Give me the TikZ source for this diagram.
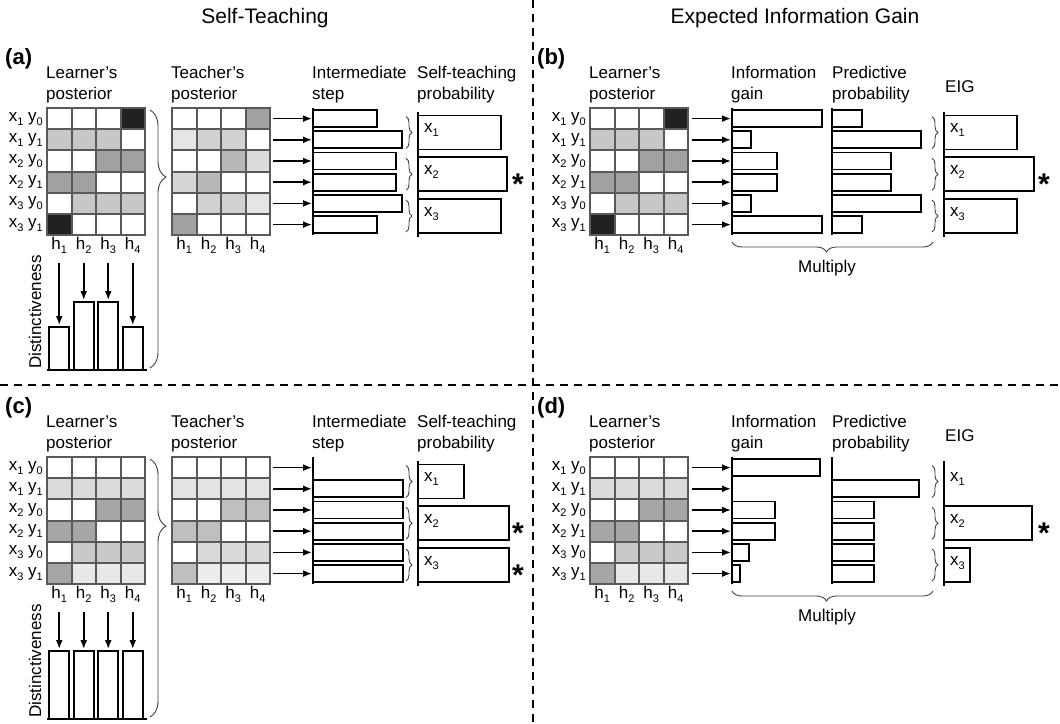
\documentclass[tikz,border=0pt]{standalone}
\usepackage{fontspec}
\setmainfont{Liberation Sans}
\usetikzlibrary{arrows.meta,decorations.pathreplacing}

\newcommand{\lowidx}[1]{\raisebox{-4pt}{\fontsize{11}{11}\selectfont #1}}

\tikzset{
  cell/.style={draw=black!65, line width=2pt},
  barbox/.style={draw=black, line width=1.8pt},
  axisline/.style={draw=black, line width=1.8pt},
  feed/.style={-{Latex[length=9pt,width=7pt]}, line width=1.7pt},
  grp/.style={decorate, decoration={brace, amplitude=6pt}, draw=black!75, line width=0.9pt},
  lab/.style={font=\fontsize{17}{21}\selectfont, inner sep=0pt},
  head2/.style={lab, align=left, anchor=south west},
  heading/.style={font=\fontsize{21}{25}\selectfont, inner sep=0pt},
  panel/.style={font=\fontsize{22}{25}\selectfont\bfseries, inner sep=0pt, anchor=west},
  divider/.style={dashed, dash pattern=on 8pt off 6pt, line width=1.4pt},
  star/.style={font=\fontsize{30}{30}\selectfont\bfseries, inner sep=0pt, anchor=west},
}

% posterior grid: name, left, top, darkness of the 24 cells (row by row)
\newcommand{\postgrid}[4]{%
  \foreach \p [count=\i from 0] in {#4}{%
    \pgfmathtruncatemacro{\cx}{mod(\i,4)}%
    \pgfmathtruncatemacro{\ry}{\i/4}%
    \filldraw[cell, fill=black!\p] ({#2+24.5*\cx},{#3+21.2*\ry}) rectangle ++(24.5,21.2);
  }
  \foreach \r in {1,...,6}
    \coordinate (#1e\r) at ({#2+98},{#3+21.2*(\r-0.5)});
  \foreach \c in {1,...,4}
    \node[lab] (#1h\c) at ({#2+24.5*(\c-0.5)},{#3+137}) {h\lowidx{\c}};
}

% x/y labels left of a grid
\newcommand{\rowlabels}[3]{%
  \foreach \xi/\yi [count=\r] in {1/0,1/1,2/0,2/1,3/0,3/1}
    \node[lab, anchor=east] (#1w\r) at ({#2-4},{#3+21.2*(\r-0.5)}) {x\lowidx{\xi} y\lowidx{\yi}};
}

% one bar per row: name, axis x, top, right ends (0 = no bar)
\newcommand{\barstack}[4]{%
  \draw[axisline] (#2,#3) -- (#2,{#3+127});
  \foreach \v [count=\r] in {#4}{%
    \coordinate (#1\r) at ({#2-1},{#3+21.2*(\r-0.5)});
    \ifdim \v pt>0pt
      \draw[barbox] (#2,{#3+21.2*(\r-0.5)-8.5}) rectangle (\v,{#3+21.2*(\r-0.5)+8.5});
    \fi
  }
}

% one bar per x: name, axis x, top, right ends (0 = no bar)
\newcommand{\groupstack}[4]{%
  \draw[axisline] (#2,{#3+4}) -- (#2,{#3+129});
  \foreach \v [count=\k] in {#4}{%
    \pgfmathsetmacro{\ya}{#3+7.5+41.75*(\k-1)}%
    \ifdim \v pt>0pt
      \draw[barbox] (#2,\ya) rectangle (\v,{\ya+34});
    \fi
    \node[lab, anchor=west] (#1x\k) at ({#2+6},{\ya+15}) {x\lowidx{\k}};
    \draw[grp] ({#2-12},{\ya+1}) -- ({#2-12},{\ya+33});
  }
}

\begin{document}
\begin{tikzpicture}[x=1pt, y=-1pt]
\useasboundingbox (0,0) rectangle (1060,723);

\draw[divider] (533,0) -- (533,723);
\draw[divider] (0,385) -- (1060,385);

\node[heading] (stTitle) at (265,18) {Self-Teaching};
\node[heading] (eigTitle) at (795,18) {Expected Information Gain};

% (a)
\node[panel] (pa) at (5,59) {(a)};
\node[head2] (aLt) at (46,103) {Learner's\\posterior};
\node[head2] (aTt) at (171,103) {Teacher's\\posterior};
\node[head2] (aIt) at (312,103) {Intermediate\\step};
\node[head2] (aSt) at (417,103) {Self-teaching\\probability};

\postgrid{aL}{47}{108}{0,0,0,87, 22,22,22,0, 0,0,37,37, 37,37,0,0, 0,22,22,22, 87,0,0,0}
\rowlabels{aL}{47}{108}
\postgrid{aT}{172}{108}{0,0,0,37, 10,18,18,0, 0,0,28,14, 16,28,0,0, 0,18,18,10, 37,0,0,0}
\barstack{aI}{313}{108}{377,402,396,396,402,377}
\groupstack{aS}{418}{108}{501,507,501}
\foreach \r in {1,...,6}
  \draw[feed, shorten <=3pt] (aTe\r) -- (aI\r);
\node[star] (aStar) at (512,184) {*};

\draw[grp, decoration={brace, amplitude=16pt, aspect=0.26}] (150,110) -- (150,368);

\node[lab, rotate=90] (aDist) at (35,312) {Distinctiveness};
\draw[axisline] (47,370) -- (147,370);
\foreach \c/\t in {1/327,2/302,3/302,4/327}{
  \draw[barbox] ({47+24.5*(\c-0.5)-10},\t) rectangle ({47+24.5*(\c-0.5)+10},370);
  \coordinate (aD\c) at ({47+24.5*(\c-0.5)},{\t-2});
  \draw[feed] ([yshift=-10pt]aLh\c.south) -- (aD\c);
}

% (b)
\node[panel] (pb) at (537,59) {(b)};
\node[head2] (bLt) at (589,103) {Learner's\\posterior};
\node[head2] (bIt) at (731,103) {Information\\gain};
\node[head2] (bPt) at (832,103) {Predictive\\probability};
\node[lab, anchor=base west] (bEt) at (945,92) {EIG};

\postgrid{bL}{590}{108}{0,0,0,87, 22,22,22,0, 0,0,37,37, 37,37,0,0, 0,22,22,22, 87,0,0,0}
\rowlabels{bL}{590}{108}
\barstack{bI}{732}{108}{822,751,777,777,751,822}
\barstack{bP}{832}{108}{862,921,891,891,921,862}
\groupstack{bE}{944}{108}{1017,1034,1017}
\foreach \r in {1,...,6}
  \draw[feed, shorten <=4pt] (bLe\r) -- (bI\r);
\node[star] (bStar) at (1038,184) {*};

\draw[grp, decoration={brace, amplitude=10pt, aspect=0.53}] (933,242) -- (732,242);
\node[lab] (bMul) at (827,268) {Multiply};

% (c)
\begin{scope}[yshift=-349pt]
\node[panel] (pc) at (5,59) {(c)};
\node[head2] (cLt) at (46,103) {Learner's\\posterior};
\node[head2] (cTt) at (171,103) {Teacher's\\posterior};
\node[head2] (cIt) at (312,103) {Intermediate\\step};
\node[head2] (cSt) at (417,103) {Self-teaching\\probability};

\postgrid{cL}{47}{108}{0,0,0,0, 14,14,14,14, 0,0,35,35, 35,35,0,0, 0,21,21,21, 35,9,9,9}
\rowlabels{cL}{47}{108}
\postgrid{cT}{172}{108}{0,0,0,0, 11,11,11,11, 0,0,25,25, 25,25,0,0, 0,15,15,15, 25,7,7,7}
\barstack{cI}{313}{108}{0,403,403,403,403,403}
\groupstack{cS}{418}{108}{464,509,509}
\foreach \r in {1,...,6}
  \draw[feed, shorten <=3pt] (cTe\r) -- (cI\r);
\node[star] (cStarA) at (512,184) {*};
\node[star] (cStarB) at (512,226) {*};

\draw[grp, decoration={brace, amplitude=16pt, aspect=0.26}] (150,110) -- (150,368);

\node[lab, rotate=90] (cDist) at (35,312) {Distinctiveness};
\draw[axisline] (47,370) -- (147,370);
\foreach \c in {1,...,4}{
  \draw[barbox] ({47+24.5*(\c-0.5)-10},302) rectangle ({47+24.5*(\c-0.5)+10},370);
  \coordinate (cD\c) at ({47+24.5*(\c-0.5)},300);
  \draw[feed] ([yshift=-10pt]cLh\c.south) -- (cD\c);
}
\end{scope}

% (d)
\begin{scope}[yshift=-349pt]
\node[panel] (pd) at (537,59) {(d)};
\node[head2] (dLt) at (589,103) {Learner's\\posterior};
\node[head2] (dIt) at (731,103) {Information\\gain};
\node[head2] (dPt) at (832,103) {Predictive\\probability};
\node[lab, anchor=base west] (dEt) at (945,92) {EIG};

\postgrid{dL}{590}{108}{0,0,0,0, 14,14,14,14, 0,0,35,35, 35,35,0,0, 0,21,21,21, 35,9,9,9}
\rowlabels{dL}{590}{108}
\barstack{dI}{732}{108}{820,0,775,775,749,740}
\barstack{dP}{832}{108}{0,919,874,874,874,874}
\groupstack{dE}{944}{108}{0,1032,970}
\foreach \r in {1,...,6}
  \draw[feed, shorten <=4pt] (dLe\r) -- (dI\r);
\node[star] (dStar) at (1038,184) {*};

\draw[grp, decoration={brace, amplitude=10pt, aspect=0.53}] (933,242) -- (732,242);
\node[lab] (dMul) at (827,268) {Multiply};
\end{scope}

\end{tikzpicture}
\end{document}
